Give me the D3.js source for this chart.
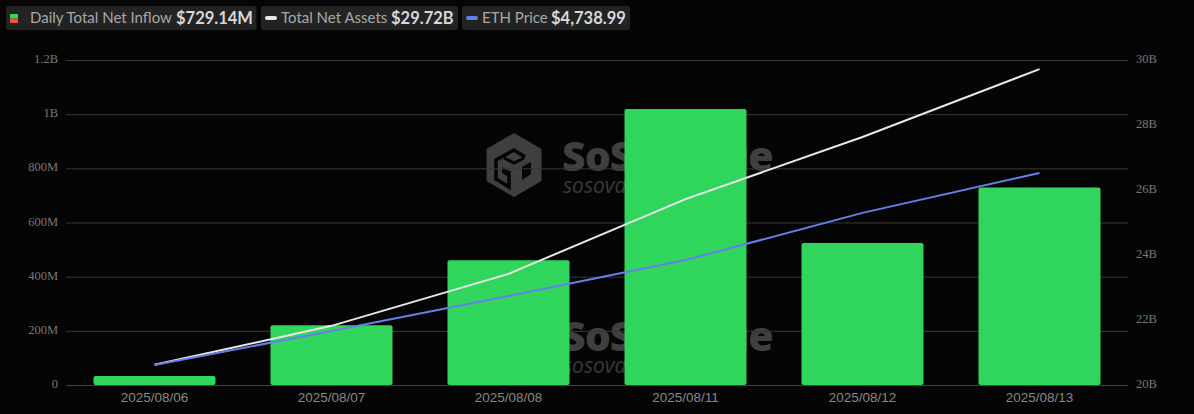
<!DOCTYPE html>
<html>
<head>
<meta charset="utf-8">
<script src="https://cdn.jsdelivr.net/npm/d3@7/dist/d3.min.js"></script>
<style>
  html, body { margin: 0; padding: 0; background: #050505; overflow: hidden; }
  svg { display: block; }
</style>
</head>
<body>
<svg id="chart" width="1194" height="414"></svg>
<script>
const dates = ['2025/08/06', '2025/08/07', '2025/08/08', '2025/08/11', '2025/08/12', '2025/08/13'];
const netInflow = [33e6, 221e6, 461e6, 1019e6, 524e6, 729.14e6];
const netAssets = [20.62e9, 21.82e9, 23.42e9, 25.72e9, 27.63e9, 29.72e9];
const ethPrice = [3680, 3868, 4061, 4259, 4519, 4738.99];
const leftTicks = [0, 200e6, 400e6, 600e6, 800e6, 1e9, 1.2e9];
const leftLabels = ['0', '200M', '400M', '600M', '800M', '1B', '1.2B'];
const rightTicks = [20e9, 22e9, 24e9, 26e9, 28e9, 30e9];
const rightLabels = ['20B', '22B', '24B', '26B', '28B', '30B'];

const svg = d3.select('#chart');
const plotLeft = 66, plotRight = 1128, plotTop = 60, plotBottom = 385;

const x = d3.scaleBand().domain(dates).range([plotLeft, plotRight]);
const yLeft = d3.scaleLinear().domain([0, 1.2e9]).range([plotBottom, plotTop]);
const yRight = d3.scaleLinear().domain([20e9, 30e9]).range([plotBottom, plotTop]);
// ETH price has its own hidden axis
const yEth = d3.scaleLinear().domain([3570, 5362]).range([plotBottom, plotTop]);
const center = d => x(d) + x.bandwidth() / 2;

// watermarks sit under the grid and the bars
function watermark(dx, dy) {
  const ink = '#3f3f3f', hole = '#050505';
  const g = svg.append('g').attr('transform', `translate(${dx},${dy})`);
  g.append('path').attr('fill', ink)
    .attr('d', 'M0,-32 L27.5,-16 L27.5,16 L0,32 L-27.5,16 L-27.5,-16 Z');
  g.append('path').attr('fill', 'none').attr('stroke', hole).attr('stroke-width', 3.5)
    .attr('d', 'M11,-8 L0,-15 L-18,-5 L-18,14 L-5,22 L-5,6');
  g.append('path').attr('fill', 'none').attr('stroke', hole).attr('stroke-width', 3)
    .attr('d', 'M-10,-7 L0,-2 L10,-7');
  g.append('path').attr('fill', hole).attr('d', 'M-12,2 L-5,6 L-5,12 L-12,8 Z');
  g.append('path').attr('fill', hole).attr('d', 'M8,2 L17,-3 L17,9 L8,15 Z');
  g.append('text').attr('x', 48).attr('y', 6)
    .attr('font-family', '"Open Sans", sans-serif').attr('font-weight', 800)
    .attr('font-size', 41).attr('letter-spacing', -1).attr('fill', ink).text('SoSoValue');
  g.append('text').attr('x', 49).attr('y', 28)
    .attr('font-family', '"Open Sans", sans-serif').attr('font-style', 'italic')
    .attr('font-size', 21).attr('fill', '#393939').text('sosovalue.com');
}
watermark(514, 165);
watermark(514, 344.5);

// grid
svg.append('g').selectAll('line').data(leftTicks).join('line')
  .attr('x1', plotLeft).attr('x2', plotRight)
  .attr('y1', d => yLeft(d) + 0.5).attr('y2', d => yLeft(d) + 0.5)
  .attr('stroke', d => d === 0 ? '#444' : '#383838');

// bars
svg.append('g').selectAll('path').data(dates).join('path')
  .attr('fill', '#30d55b')
  .attr('d', (d, i) => {
    const w = 122, r = 2;
    const x0 = center(d) - w / 2, x1 = center(d) + w / 2;
    const y0 = yLeft(netInflow[i]), y1 = yLeft(0);
    return `M${x0},${y1 - r}V${y0 + r}Q${x0},${y0} ${x0 + r},${y0}H${x1 - r}Q${x1},${y0} ${x1},${y0 + r}V${y1 - r}Q${x1},${y1} ${x1 - r},${y1}H${x0 + r}Q${x0},${y1} ${x0},${y1 - r}Z`;
  });

// lines
const assetLine = d3.line().x((d, i) => center(dates[i])).y(d => yRight(d));
const ethLine = d3.line().x((d, i) => center(dates[i])).y(d => yEth(d));
svg.append('path').datum(netAssets).attr('d', assetLine)
  .attr('fill', 'none').attr('stroke', '#e8e8e8').attr('stroke-width', 2);
svg.append('path').datum(ethPrice).attr('d', ethLine)
  .attr('fill', 'none').attr('stroke', '#6480e8').attr('stroke-width', 2);

// axis labels
const serif = '"Liberation Serif", serif';
svg.append('g').selectAll('text').data(leftTicks).join('text')
  .attr('x', 58).attr('y', d => yLeft(d) + 3).attr('text-anchor', 'end')
  .attr('font-family', serif).attr('font-size', 12.5).attr('fill', '#777')
  .text((d, i) => leftLabels[i]);
svg.append('g').selectAll('text').data(rightTicks).join('text')
  .attr('x', 1136).attr('y', d => yRight(d) + 3)
  .attr('font-family', serif).attr('font-size', 12.5).attr('fill', '#777')
  .text((d, i) => rightLabels[i]);
svg.append('g').selectAll('text').data(dates).join('text')
  .attr('x', d => center(d)).attr('y', 402).attr('text-anchor', 'middle')
  .attr('font-family', '"Liberation Sans", sans-serif').attr('font-size', 13.5).attr('fill', '#888')
  .text(d => d);

// legend
const legendNames = ['Daily Total Net Inflow', 'Total Net Assets', 'ETH Price'];
const legendValues = ['$729.14M', '$29.72B', '$4,738.99'];
const legendBoxX = [6, 261, 462], legendBoxW = [250.5, 197, 168];
const legendNameX = [30, 281, 482], legendValueX = [176, 391, 551];
const legendColors = [null, '#e8e8e8', '#6480e8'];
const legend = svg.append('g').attr('font-family', 'Lato, sans-serif');
legendNames.forEach((name, i) => {
  legend.append('rect').attr('x', legendBoxX[i]).attr('y', 6)
    .attr('width', legendBoxW[i]).attr('height', 24).attr('rx', 3).attr('fill', '#232323');
  if (i === 0) {
    legend.append('rect').attr('x', 10).attr('y', 14).attr('width', 8).attr('height', 4.5).attr('fill', '#30d55b');
    legend.append('rect').attr('x', 10).attr('y', 18.5).attr('width', 8).attr('height', 4.5).attr('fill', '#f5503c');
  } else {
    legend.append('rect').attr('x', legendBoxX[i] + 4).attr('y', 16).attr('width', 12).attr('height', 4)
      .attr('rx', 2).attr('fill', legendColors[i]);
  }
  legend.append('text').attr('x', legendNameX[i]).attr('y', 23)
    .attr('font-size', 15).attr('fill', '#a8a8a8').text(name);
  legend.append('text').attr('x', legendValueX[i]).attr('y', 24)
    .attr('font-size', 16.5).attr('font-weight', 700).attr('fill', '#d8d8d8').text(legendValues[i]);
});
</script>
</body>
</html>
